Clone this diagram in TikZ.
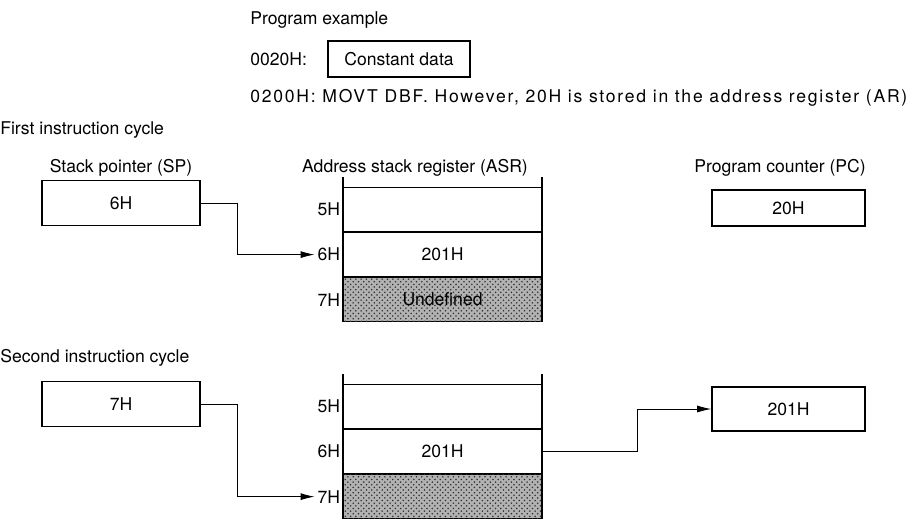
\documentclass[tikz,border=0pt]{standalone}
\usepackage{fontspec}
\setmainfont{TeX Gyre Heros}
\usetikzlibrary{positioning,patterns,arrows.meta}
\tikzset{
  txt/.style={anchor=west, inner sep=0pt},
  reg/.style={draw, line width=0.9pt, minimum width=3.16cm, minimum height=0.9cm},
  cell/.style={draw, line width=0.6pt, minimum width=3.96cm, minimum height=0.88cm, inner sep=0pt},
  undef/.style={cell, fill=black!30, postaction={pattern=crosshatch dots, pattern color=black!80}},
  addr/.style={anchor=east, inner sep=1.5pt},
  conn/.style={line width=0.5pt, -{Latex[length=2.8mm,width=1.4mm]}},
}
\begin{document}
\begin{tikzpicture}[font=\fontsize{10}{12}\selectfont]
\useasboundingbox (0,0) rectangle (18.28,10.38);
% program example
\node[txt] (title) at (5.0,9.98) {Program example};
\node[txt] (adr1) at (5.0,9.2) {0020H:};
\node[draw, line width=0.9pt, minimum width=2.84cm, minimum height=0.72cm] (const) at (7.98,9.2) {Constant data};
\node[txt] (adr2) at (5.0,8.42) {\addfontfeatures{LetterSpace=10}0200H: MOVT DBF. However, 20H is stored in the address register (AR)};

% first instruction cycle
\node[txt] (cyc1) at (0,7.78) {First instruction cycle};
\node (sptxt) at (2.42,7.02) {Stack pointer (SP)};
\node (asrtxt) at (8.3,7.02) {Address stack register (ASR)};
\node (pctxt) at (15.6,7.02) {Program counter (PC)};
\node[reg] (sp1) at (2.42,6.32) {6H};
\node[cell, anchor=north west] (a5) at (6.86,6.64) {};
\node[cell, below=0pt of a5] (a6) {201H};
\node[undef, below=0pt of a6] (a7) {Undefined};
\draw[line width=1.2pt] ([yshift=2mm]a5.north west) -- (a7.south west);
\draw[line width=1.2pt] ([yshift=2mm]a5.north east) -- (a7.south east);
\node[addr] (l5) at (a5.west) {5H};
\node[addr] (l6) at (a6.west) {6H};
\node[addr] (l7) at (a7.west) {7H};
\node[reg, minimum width=3.06cm, minimum height=0.72cm] (pc1) at (15.77,6.22) {20H};
\draw[conn] (sp1.east) -- ++(0.74,0) |- (l6.west);

% second instruction cycle
\node[txt] (cyc2) at (0,3.22) {Second instruction cycle};
\node[reg] (sp2) at (2.42,2.3) {7H};
\node[cell, anchor=north west] (b5) at (6.86,2.70) {};
\node[cell, below=0pt of b5] (b6) {201H};
\node[undef, below=0pt of b6] (b7) {};
\draw[line width=1.2pt] ([yshift=2mm]b5.north west) -- (b7.south west);
\draw[line width=1.2pt] ([yshift=2mm]b5.north east) -- (b7.south east);
\node[addr] (m5) at (b5.west) {5H};
\node[addr] (m6) at (b6.west) {6H};
\node[addr] (m7) at (b7.west) {7H};
\node[reg, minimum width=3.06cm, minimum height=0.88cm] (pc2) at (15.77,2.2) {201H};
\draw[conn] (sp2.east) -- ++(0.74,0) |- (m7.west);
\draw[conn] (b6.east) -- ++(1.9,0) |- (pc2.west);
\end{tikzpicture}
\end{document}
